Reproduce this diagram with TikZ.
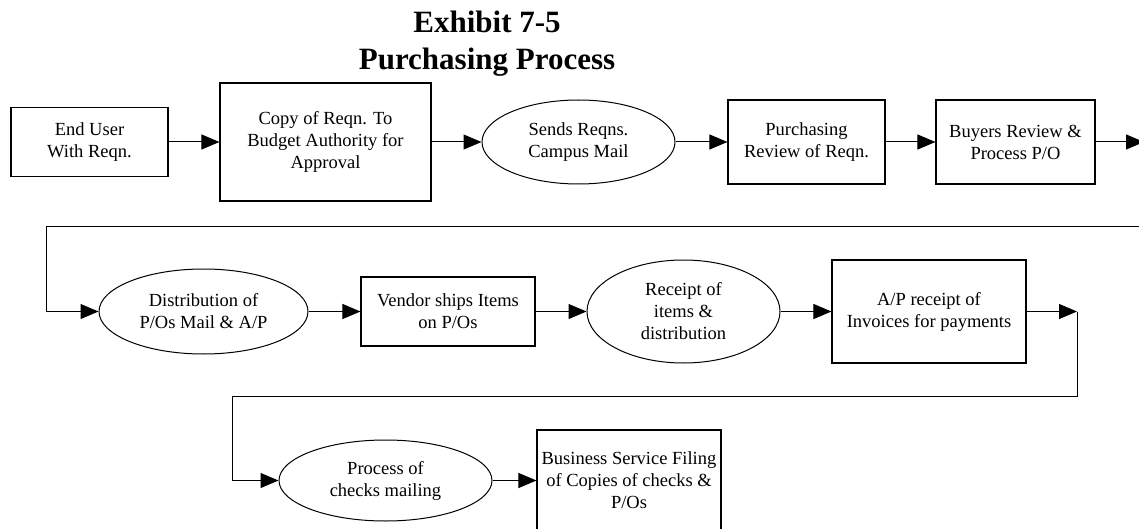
\documentclass[tikz,border=0pt]{standalone}
\usepackage{fontspec}
\setmainfont{Liberation Serif}
\usetikzlibrary{arrows.meta,shapes.geometric}

\begin{document}
\begin{tikzpicture}[x=1pt,y=-1pt,
  every node/.style={font=\fontsize{18.5}{22}\selectfont, align=center, inner sep=0pt},
  stepbox/.style={draw, rectangle, line width=1.1pt},
  oval/.style={draw, ellipse, line width=1pt},
  conn/.style={line width=1pt, -{Triangle[length=18pt,width=15pt]}},
  heading/.style={font=\fontsize{31}{36}\selectfont\bfseries, anchor=base}]

\useasboundingbox (0,0) rectangle (1139,529);

% title
\node[heading] (t1) at (487,33) {Exhibit 7-5};
\node[heading] (t2) at (487,70) {Purchasing Process};

% first row
\node[stepbox, minimum width=157pt, minimum height=69pt] (enduser) at (89.5,142) {End User\\With Reqn.};
\node[stepbox, minimum width=211pt, minimum height=118pt] (copy) at (325.5,142) {Copy of Reqn. To\\Budget Authority for\\Approval};
\node[oval, minimum width=193pt, minimum height=84pt] (sends) at (578.5,142) {Sends Reqns.\\Campus Mail};
\node[stepbox, minimum width=157pt, minimum height=84pt] (purch) at (806.5,142) {Purchasing\\Review of Reqn.};
\node[stepbox, minimum width=159pt, minimum height=84pt] (buyers) at (1015.5,142) {Buyers Review \&\\Process P/O};
\coordinate (r1end) at (1144,142);
\coordinate (r1turn) at (1144,227);
\coordinate (r2left) at (46,227);

% second row
\node[oval, minimum width=209pt, minimum height=85pt] (dist) at (203.5,311.5) {Distribution of\\P/Os Mail \& A/P};
\node[stepbox, minimum width=174pt, minimum height=69pt] (vendor) at (448,311.5) {Vendor ships Items\\on P/Os};
\node[oval, minimum width=193pt, minimum height=103pt] (receipt) at (683.5,311.5) {Receipt of\\items \&\\distribution};
\node[stepbox, minimum width=194pt, minimum height=103pt] (ap) at (929,311.5) {A/P receipt of\\Invoices for payments};
\coordinate (r2end) at (1077,311.5);
\coordinate (r3left) at (232,396);

% third row
\node[oval, minimum width=213pt, minimum height=81pt] (checks) at (385.5,480.5) {Process of\\checks mailing};
\node[stepbox, minimum width=184pt, minimum height=101pt] (filing) at (629,480.5) {Business Service Filing\\of Copies of checks \&\\P/Os};

% connectors
\draw[conn] (enduser) -- (copy);
\draw[conn] (copy) -- (sends);
\draw[conn] (sends) -- (purch);
\draw[conn] (purch) -- (buyers);
\draw[conn] (buyers) -- (r1end);
\draw[conn] (r1turn) -- (r2left) |- (dist.west);
\draw[conn] (dist) -- (vendor);
\draw[conn] (vendor) -- (receipt);
\draw[conn] (receipt) -- (ap);
\draw[conn] (ap) -- (r2end);
\draw[conn] (r2end) |- (r3left) |- (checks.west);
\draw[conn] (checks) -- (filing);
\end{tikzpicture}
\end{document}
